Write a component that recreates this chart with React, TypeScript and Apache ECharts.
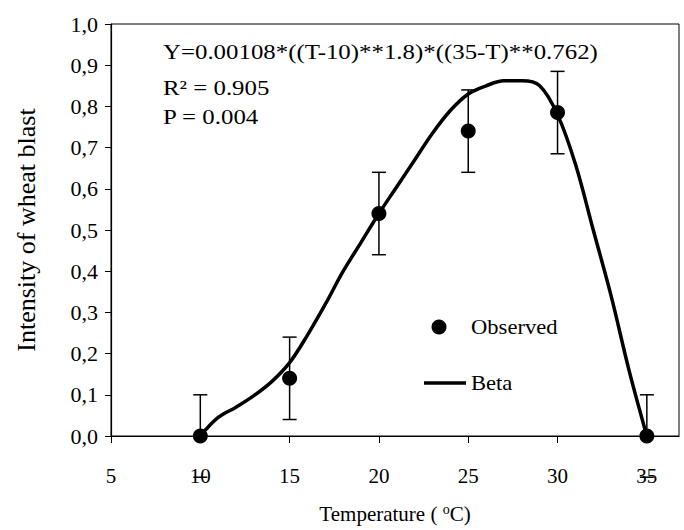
import React, { useEffect, useRef } from "react";
import * as echarts from "echarts";

// Observed data (temperature °C, intensity, error)
const tempObs = [10, 15, 20, 25, 30, 35];
const intensityObs = [0, 0.14, 0.54, 0.74, 0.785, 0];
const errObs = [0.1, 0.1, 0.1, 0.1, 0.1, 0.1];

// Beta curve
const tempFit = [10, 11, 12, 13, 14, 15, 16, 17, 18, 19, 20, 21, 22, 23, 24, 25, 26, 27, 28, 29, 30, 31, 32, 33, 34, 35];
const intensityFit = [0, 0.045, 0.07, 0.098, 0.132, 0.178, 0.245, 0.32, 0.4, 0.47, 0.54, 0.605, 0.67, 0.735, 0.79, 0.83, 0.85, 0.862, 0.862, 0.85, 0.78, 0.66, 0.5, 0.34, 0.16, 0];

const xTicks = [5, 10, 15, 20, 25, 30, 35];
const equationLines = ["Y=0.00108*((T-10)**1.8)*((35-T)**0.762)", "R² = 0.905", "P = 0.004"];
const legendLabels = ["Observed", "Beta"];

const FONT = "'Liberation Serif', 'Times New Roman', serif";

export default function App() {
  const ref = useRef<HTMLDivElement>(null);
  useEffect(() => {
    if (!ref.current) return;
    const chart = echarts.init(ref.current, undefined, { renderer: "svg" });
    const textBase = { fontFamily: FONT, fill: "#000" };
    const option: any = {
      animation: false,
      backgroundColor: "#fff",
      textStyle: { fontFamily: FONT, color: "#000" },
      grid: {
        left: 111,
        top: 24,
        right: 5,
        bottom: 94,
        show: true,
        borderColor: "#000",
        borderWidth: 1,
        backgroundColor: "transparent",
      },
      xAxis: {
        type: "value",
        min: 5,
        max: 36.8,
        interval: 5,
        name: "Temperature ( {sup|o}C)",
        nameLocation: "middle",
        nameGap: 66,
        nameTextStyle: {
          fontSize: 21,
          fontFamily: FONT,
          color: "#000",
          rich: { sup: { fontSize: 14, fontFamily: FONT, color: "#000", verticalAlign: "top", padding: [0, 0, 10, 0] } },
        },
        axisLine: { lineStyle: { color: "#000", width: 1.2 } },
        axisTick: { show: true, length: 7, inside: false, customValues: xTicks, lineStyle: { color: "#000" } },
        axisLabel: {
          customValues: xTicks,
          fontSize: 21,
          fontFamily: FONT,
          color: "#000",
          margin: 29,
          formatter: (v: number) => (xTicks.includes(v) ? String(v) : ""),
        },
        splitLine: { show: false },
      },
      yAxis: {
        type: "value",
        min: 0,
        max: 1,
        interval: 0.1,
        name: "Intensity of wheat blast",
        nameLocation: "middle",
        nameGap: 72,
        nameTextStyle: { fontSize: 26, fontFamily: FONT, color: "#000" },
        axisLine: { show: true, lineStyle: { color: "#000", width: 1.2 } },
        axisTick: { show: true, length: 6, inside: false, lineStyle: { color: "#000" } },
        axisLabel: {
          fontSize: 22,
          fontFamily: FONT,
          color: "#000",
          margin: 13,
          formatter: (v: number) => v.toFixed(1).replace(".", ","),
        },
        splitLine: { show: false },
      },
      series: [
        {
          name: "Beta",
          type: "line",
          data: tempFit.map((t, i) => [t, intensityFit[i]]),
          smooth: 0.35,
          showSymbol: false,
          lineStyle: { color: "#000", width: 3.5 },
          z: 2,
        },
        {
          name: "errors",
          type: "custom",
          clip: false,
          data: tempObs.map((t, i) => [t, intensityObs[i], errObs[i]]),
          renderItem: (params: any, api: any) => {
            const x = api.value(0);
            const y = api.value(1);
            const e = api.value(2);
            const top = api.coord([x, y + e]);
            const bot = api.coord([x, y - e]);
            const base = api.coord([x, Math.max(0, y - e)]);
            const hw = 7;
            const st = { stroke: "#000", lineWidth: 1.5 };
            return {
              type: "group",
              children: [
                { type: "line", shape: { x1: top[0], y1: top[1], x2: base[0], y2: base[1] }, style: st },
                { type: "line", shape: { x1: top[0] - hw, y1: top[1], x2: top[0] + hw, y2: top[1] }, style: st },
                { type: "line", shape: { x1: bot[0] - hw, y1: bot[1], x2: bot[0] + hw, y2: bot[1] }, style: st },
              ],
            };
          },
          z: 3,
        },
        {
          name: "Observed",
          type: "scatter",
          data: tempObs.map((t, i) => [t, intensityObs[i]]),
          symbol: "circle",
          symbolSize: 15,
          itemStyle: { color: "#000", opacity: 1 },
          emphasis: { disabled: true },
          clip: false,
          z: 4,
        },
      ],
      graphic: [
        { type: "text", x: 163, y: 52, scaleX: 1.13, style: { ...textBase, text: equationLines[0], fontSize: 22, verticalAlign: "middle" } },
        { type: "text", x: 163, y: 88, scaleX: 1.13, style: { ...textBase, text: equationLines[1], fontSize: 22, verticalAlign: "middle" } },
        { type: "text", x: 163, y: 117, scaleX: 1.13, style: { ...textBase, text: equationLines[2], fontSize: 22, verticalAlign: "middle" } },
        { type: "circle", shape: { cx: 439, cy: 327, r: 7.5 }, style: { fill: "#000" } },
        { type: "text", x: 471, y: 327, scaleX: 1.13, style: { ...textBase, text: legendLabels[0], fontSize: 20, verticalAlign: "middle" } },
        { type: "line", shape: { x1: 424, y1: 383, x2: 466, y2: 383 }, style: { stroke: "#000", lineWidth: 3.5 } },
        { type: "text", x: 471, y: 383, scaleX: 1.13, style: { ...textBase, text: legendLabels[1], fontSize: 20, verticalAlign: "middle" } },
      ],
    };
    chart.setOption(option);
    return () => chart.dispose();
  }, []);
  return (
    <div
      ref={ref}
      style={{ position: "fixed", left: 0, top: 0, width: 684, height: 530, background: "#fff" }}
    />
  );
}
